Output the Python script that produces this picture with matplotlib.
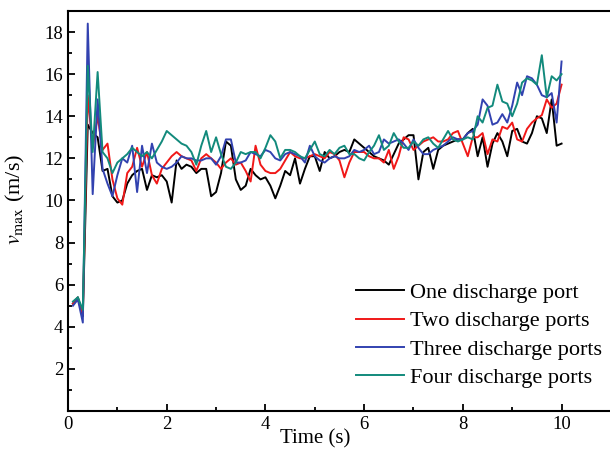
import numpy as np
import matplotlib
matplotlib.use('Agg')
import matplotlib.pyplot as plt
from matplotlib.ticker import MultipleLocator

plt.rcParams['font.family'] = ['Liberation Serif', 'DejaVu Serif']
plt.rcParams['mathtext.fontset'] = 'stix'

time = np.round(np.arange(1, 101) * 0.1, 1)

one_port = [5.1, 5.4, 4.5, 13.6, 13.2, 13.0, 11.4, 11.5, 10.2, 9.9,
            10.0, 10.8, 11.2, 11.4, 11.5, 10.5, 11.2, 11.1, 11.2, 10.9,
            9.9, 11.9, 11.5, 11.7, 11.6, 11.3, 11.5, 11.5, 10.2, 10.4,
            11.3, 12.8, 12.6, 11.0, 10.5, 10.7, 11.5, 11.2, 11.0, 11.1,
            10.7, 10.1, 10.7, 11.4, 11.2, 12.0, 10.8, 11.5, 12.1, 12.1,
            11.4, 12.3, 12.0, 12.1, 12.3, 12.4, 12.3, 12.9, 12.7, 12.5,
            12.3, 12.1, 12.0, 11.9, 11.7, 12.2, 12.7, 12.9, 13.1, 13.1,
            11.0, 12.3, 12.5, 11.5, 12.4, 12.6, 12.7, 12.8, 12.9, 12.9,
            13.2, 13.4, 12.1, 13.0, 11.6, 12.7, 13.2, 12.8, 12.1, 13.3,
            13.4, 12.8, 12.7, 13.2, 14.0, 13.9, 13.2, 14.8, 12.6, 12.7]

two_ports = [5.1, 5.3, 4.6, 15.0, 12.5, 14.0, 12.4, 12.7, 11.0, 10.1,
             9.8, 11.3, 11.6, 12.5, 11.6, 12.3, 11.2, 10.8, 11.5, 11.8,
             12.1, 12.3, 12.1, 12.0, 11.9, 11.4, 12.0, 12.2, 12.0, 11.8,
             11.5, 11.8, 12.0, 11.7, 11.8, 11.4, 10.9, 12.6, 11.7, 11.4,
             11.3, 11.3, 11.5, 11.9, 12.3, 12.1, 12.0, 12.0, 12.1, 12.2,
             12.1, 12.0, 12.3, 12.2, 11.9, 11.1, 11.8, 12.3, 12.3, 12.3,
             12.1, 12.0, 12.0, 11.8, 12.4, 11.5, 12.1, 13.0, 12.9, 12.4,
             12.6, 12.8, 12.9, 13.0, 12.8, 12.8, 12.9, 13.2, 13.3, 12.7,
             12.1, 13.0, 13.0, 13.2, 12.2, 12.9, 12.8, 13.5, 13.4, 13.7,
             12.9, 12.8, 13.4, 13.7, 13.9, 14.05, 14.8, 14.4, 14.6, 15.5]

three_ports = [5.0, 5.3, 4.2, 18.4, 10.3, 14.8, 11.5, 10.8, 10.2, 11.2,
               12.0, 11.8, 12.6, 10.4, 12.6, 11.3, 12.7, 11.8, 11.6, 11.5,
               11.6, 11.8, 12.1, 12.0, 12.0, 11.9, 11.9, 12.0, 12.0, 11.7,
               12.1, 12.9, 12.9, 11.8, 11.8, 11.9, 12.3, 12.2, 12.1, 12.4,
               12.3, 12.0, 11.9, 12.2, 12.3, 12.2, 12.1, 11.8, 12.6, 12.1,
               11.9, 11.8, 12.0, 12.1, 12.0, 12.0, 12.1, 12.4, 12.3, 12.4,
               12.6, 12.2, 12.3, 12.9, 12.7, 12.8, 12.9, 12.7, 12.4, 12.9,
               12.5, 12.2, 12.2, 12.4, 12.5, 12.6, 12.8, 13.0, 12.9, 12.9,
               13.2, 13.3, 13.6, 14.8, 14.5, 13.6, 13.7, 14.1, 13.7, 14.5,
               15.6, 15.0, 15.9, 15.8, 15.5, 15.0, 14.9, 15.1, 13.7, 16.6]

four_ports = [5.2, 5.4, 4.8, 16.4, 12.3, 16.1, 12.3, 12.0, 11.3, 11.8,
              12.0, 12.2, 12.5, 12.3, 12.1, 12.3, 12.0, 12.4, 12.8, 13.3,
              13.1, 12.9, 12.7, 12.6, 12.3, 11.7, 12.6, 13.3, 12.3, 13.0,
              12.2, 11.6, 11.5, 11.8, 12.3, 12.2, 12.3, 12.3, 12.0, 12.5,
              13.1, 12.8, 12.0, 12.4, 12.4, 12.3, 12.1, 12.0, 12.4, 12.8,
              12.2, 12.1, 12.4, 12.2, 12.5, 12.6, 12.2, 12.2, 12.0, 11.9,
              12.3, 12.6, 13.1, 12.4, 12.6, 13.2, 12.8, 12.5, 12.5, 12.8,
              12.6, 12.9, 13.0, 12.7, 12.5, 12.9, 13.3, 12.9, 12.8, 12.9,
              13.0, 12.9, 14.0, 13.7, 14.4, 14.5, 15.5, 14.7, 14.6, 14.0,
              14.6, 15.6, 15.8, 15.7, 15.5, 16.9, 14.9, 15.9, 15.7, 16.0]

labels = ['One discharge port', 'Two discharge ports',
          'Three discharge ports', 'Four discharge ports']
colors = ['#000000', '#f01818', '#3242b0', '#128a7c']

fig = plt.figure(figsize=(6.1, 4.59), dpi=100)
ax = fig.add_axes([0.1115, 0.1046, 0.89, 0.8715])

for y, lab, c in zip([one_port, two_ports, three_ports, four_ports], labels, colors):
    ax.plot(time, y, color=c, lw=1.4, label=lab)

ax.set_xlim(0, 11)
ax.set_ylim(0, 19)
ax.set_xticks(range(0, 11, 2))
ax.set_yticks(range(2, 19, 2))
ax.xaxis.set_minor_locator(MultipleLocator(1))
ax.yaxis.set_minor_locator(MultipleLocator(1))
ax.tick_params(which='both', direction='in', labelsize=13.5, width=1.3)
ax.tick_params(which='major', length=5)
ax.tick_params(which='minor', length=3)
for s in ax.spines.values():
    s.set_linewidth(1.5)
ax.spines['right'].set_visible(False)

ax.set_xlabel('Time (s)', fontsize=15)
ax.xaxis.set_label_coords(0.455, -0.045)
ax.set_ylabel(r'$v_{\rm max}$ (m/s)', fontsize=16)
ax.yaxis.set_label_coords(-0.075, 0.53)

ax.legend(loc='lower right', bbox_to_anchor=(1.0, 0.035), frameon=False,
          fontsize=16, handlelength=2.2, handletextpad=0.25,
          labelspacing=0.35, borderaxespad=0.0)

fig.savefig('out.png', dpi=100)
